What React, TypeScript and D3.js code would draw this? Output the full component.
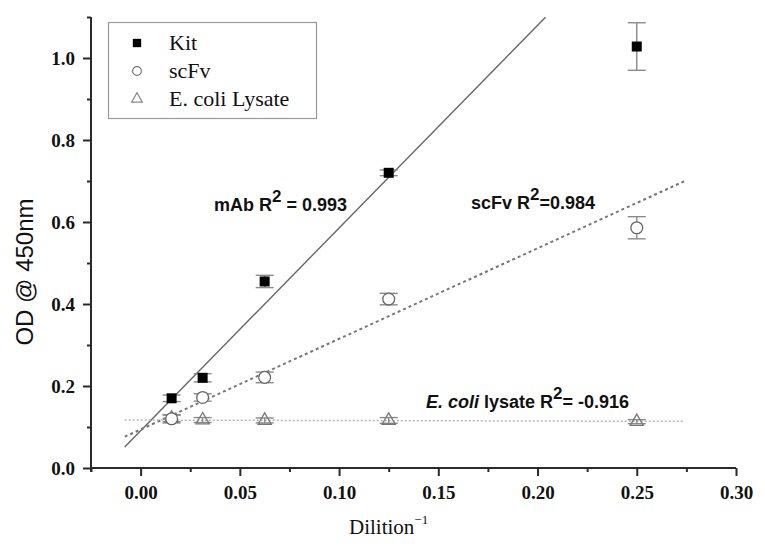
import React, { useEffect, useRef } from "react";
import * as d3 from "d3";

const dilutions = [0.015625, 0.03125, 0.0625, 0.125, 0.25];
const kitValues = [0.17, 0.22, 0.455, 0.72, 1.028];
const kitErrors = [0.008, 0.01, 0.015, 0.007, 0.058];
const scfvValues = [0.12, 0.172, 0.221, 0.412, 0.586];
const scfvErrors = [0.01, 0.009, 0.013, 0.014, 0.027];
const ecoliValues = [0.121, 0.117, 0.116, 0.116, 0.113];
const ecoliErrors = [0.008, 0.006, 0.006, 0.007, 0.005];

// fitted lines: [intercept, slope, xStart, xEnd]
const kitFit = [0.091, 4.943, -0.008, 0.204];
const scfvFit = [0.094, 2.21, -0.008, 0.274];
const ecoliFit = [0.117, -0.012, -0.008, 0.274];

const xTicks = [0, 0.05, 0.1, 0.15, 0.2, 0.25, 0.3];
const xMinorTicks = [-0.025, 0.025, 0.075, 0.125, 0.175, 0.225, 0.275];
const yTicks = [0, 0.2, 0.4, 0.6, 0.8, 1.0];
const yMinorTicks = [0.1, 0.3, 0.5, 0.7, 0.9, 1.1];

const legendLabels = ["Kit", "scFv", "E. coli Lysate"];

export default function App() {
  const ref = useRef<SVGSVGElement>(null);

  useEffect(() => {
    const svg = d3.select(ref.current);
    svg.selectAll("*").remove();

    const x = d3.scaleLinear().domain([-0.025, 0.3]).range([91, 736]);
    const y = d3.scaleLinear().domain([0, 1.1]).range([468, 17]);

    const axisColor = "#2a2a2a";

    // fit lines
    const fitLine = (fit: number[], color: string, dash: string | null, w: number) => {
      const [b, m, x0, x1] = fit;
      const pts: [number, number][] = [
        [x0, b + m * x0],
        [x1, b + m * x1],
      ];
      const line = d3.line<[number, number]>().x((d) => x(d[0])).y((d) => y(d[1]));
      const p = svg
        .append("path")
        .attr("d", line(pts))
        .attr("fill", "none")
        .attr("stroke", color)
        .attr("stroke-width", w);
      if (dash) p.attr("stroke-dasharray", dash);
    };
    fitLine(kitFit, "#666", null, 1.4);
    fitLine(scfvFit, "#777", "3,3", 2);
    fitLine(ecoliFit, "#b5b5b5", "2,2", 1.5);

    // error bars
    const errColor = "#8a8a8a";
    const errorBars = (vals: number[], errs: number[]) => {
      const g = svg.append("g");
      dilutions.forEach((dx, i) => {
        const cx = x(dx);
        const yt = y(vals[i] + errs[i]);
        const yb = y(vals[i] - errs[i]);
        g.append("line").attr("x1", cx).attr("x2", cx).attr("y1", yt).attr("y2", yb)
          .attr("stroke", errColor).attr("stroke-width", 1.4);
        [yt, yb].forEach((yy) =>
          g.append("line").attr("x1", cx - 9).attr("x2", cx + 9).attr("y1", yy).attr("y2", yy)
            .attr("stroke", errColor).attr("stroke-width", 1.4)
        );
      });
    };
    errorBars(ecoliValues, ecoliErrors);
    errorBars(scfvValues, scfvErrors);
    errorBars(kitValues, kitErrors);

    const sqSym = d3.symbol().type(d3.symbolSquare).size(100);
    const circSym = d3.symbol().type(d3.symbolCircle).size(110);
    const triSym = d3.symbol().type(d3.symbolTriangle).size(75);

    // E. coli triangles
    svg.append("g").selectAll("path").data(ecoliValues).join("path")
      .attr("d", triSym() as string)
      .attr("transform", (d, i) => `translate(${x(dilutions[i])},${y(d)})`)
      .attr("fill", "none").attr("stroke", "#777").attr("stroke-width", 1.3);
    // scFv circles
    svg.append("g").selectAll("path").data(scfvValues).join("path")
      .attr("d", circSym() as string)
      .attr("transform", (d, i) => `translate(${x(dilutions[i])},${y(d)})`)
      .attr("fill", "white").attr("stroke", "#666").attr("stroke-width", 1.3);
    // Kit squares
    svg.append("g").selectAll("path").data(kitValues).join("path")
      .attr("d", sqSym() as string)
      .attr("transform", (d, i) => `translate(${x(dilutions[i])},${y(d)})`)
      .attr("fill", "#000");

    // axes
    const gx = svg.append("g").attr("transform", "translate(0,468)");
    gx.call(
      d3.axisBottom(x).tickValues(xTicks).tickSize(8).tickPadding(10)
        .tickFormat((d) => d3.format(".2f")(d as number))
    );
    gx.append("g").call(d3.axisBottom(x).tickValues(xMinorTicks).tickSize(4).tickFormat(() => ""))
      .select(".domain").remove();
    gx.selectAll(".domain").attr("d", `M${x(-0.025)},0H${x(0.3)}`);

    const gy = svg.append("g").attr("transform", "translate(91,0)");
    gy.call(
      d3.axisLeft(y).tickValues(yTicks).tickSize(8).tickPadding(8)
        .tickFormat((d) => d3.format(".1f")(d as number))
    );
    gy.append("g").call(d3.axisLeft(y).tickValues(yMinorTicks).tickSize(4).tickFormat(() => ""))
      .select(".domain").remove();
    gy.selectAll(".domain").attr("d", `M0,${y(1.1)}V${y(0) + 4}`);

    [gx, gy].forEach((g) => {
      g.selectAll(".domain").attr("stroke", axisColor).attr("stroke-width", 2).attr("fill", "none");
      g.selectAll(".tick line").attr("stroke", axisColor).attr("stroke-width", 2);
      g.selectAll("text")
        .attr("fill", "#111")
        .attr("font-family", "'Liberation Serif', 'Times New Roman', serif")
        .attr("font-weight", "bold")
        .attr("font-size", 19);
    });

    // axis titles
    svg.append("text")
      .attr("transform", `translate(33,272) rotate(-90)`)
      .attr("text-anchor", "middle")
      .attr("font-family", "'Liberation Sans', Arial, sans-serif")
      .attr("font-size", 24)
      .attr("fill", "#111")
      .text("OD @ 450nm");

    const xt = svg.append("text")
      .attr("x", 349).attr("y", 534)
      .attr("font-family", "'Liberation Serif', 'Times New Roman', serif")
      .attr("font-size", 21)
      .attr("fill", "#111");
    xt.append("tspan").text("Dilition");
    xt.append("tspan").attr("dy", -10).attr("font-size", 13).text("−1");

    // annotations
    const annot = (xx: number, yy: number, parts: { t: string; sup?: boolean; it?: boolean }[]) => {
      const t = svg.append("text")
        .attr("x", xx).attr("y", yy)
        .attr("font-family", "'Liberation Sans', Arial, sans-serif")
        .attr("font-weight", "bold")
        .attr("font-size", 18)
        .attr("fill", "#111");
      let raised = false;
      parts.forEach((p) => {
        const s = t.append("tspan").text(p.t);
        if (p.it) s.attr("font-style", "italic");
        if (p.sup && !raised) { s.attr("dy", -9).attr("font-size", 17); raised = true; }
        else if (!p.sup && raised) { s.attr("dy", 9); raised = false; }
      });
    };
    annot(214, 211, [{ t: "mAb R" }, { t: "2", sup: true }, { t: " = 0.993" }]);
    annot(471, 209, [{ t: "scFv R" }, { t: "2", sup: true }, { t: "=0.984" }]);
    annot(426, 408, [{ t: "E. coli", it: true }, { t: " lysate R" }, { t: "2", sup: true }, { t: "= -0.916" }]);

    // legend
    const lg = svg.append("g");
    lg.append("rect").attr("x", 108.5).attr("y", 22.5).attr("width", 208).attr("height", 96)
      .attr("fill", "white").attr("stroke", "#999").attr("stroke-width", 1.2);
    const legendSyms = [
      { d: d3.symbol().type(d3.symbolSquare).size(70)() as string, fill: "#000", stroke: "none" },
      { d: d3.symbol().type(d3.symbolCircle).size(60)() as string, fill: "white", stroke: "#777" },
      { d: d3.symbol().type(d3.symbolTriangle).size(50)() as string, fill: "none", stroke: "#888" },
    ];
    const rowY = [43, 71, 99];
    legendLabels.forEach((lab, i) => {
      lg.append("path").attr("d", legendSyms[i].d)
        .attr("transform", `translate(137,${rowY[i]})`)
        .attr("fill", legendSyms[i].fill).attr("stroke", legendSyms[i].stroke).attr("stroke-width", 1.2);
      lg.append("text").attr("x", 169).attr("y", rowY[i] + 7)
        .attr("font-family", "'Liberation Serif', 'Times New Roman', serif")
        .attr("font-size", 22).attr("fill", "#111").text(lab);
    });
  }, []);

  return (
    <svg
      ref={ref}
      width={765}
      height={556}
      style={{ position: "absolute", left: 0, top: 0, background: "white" }}
    />
  );
}
